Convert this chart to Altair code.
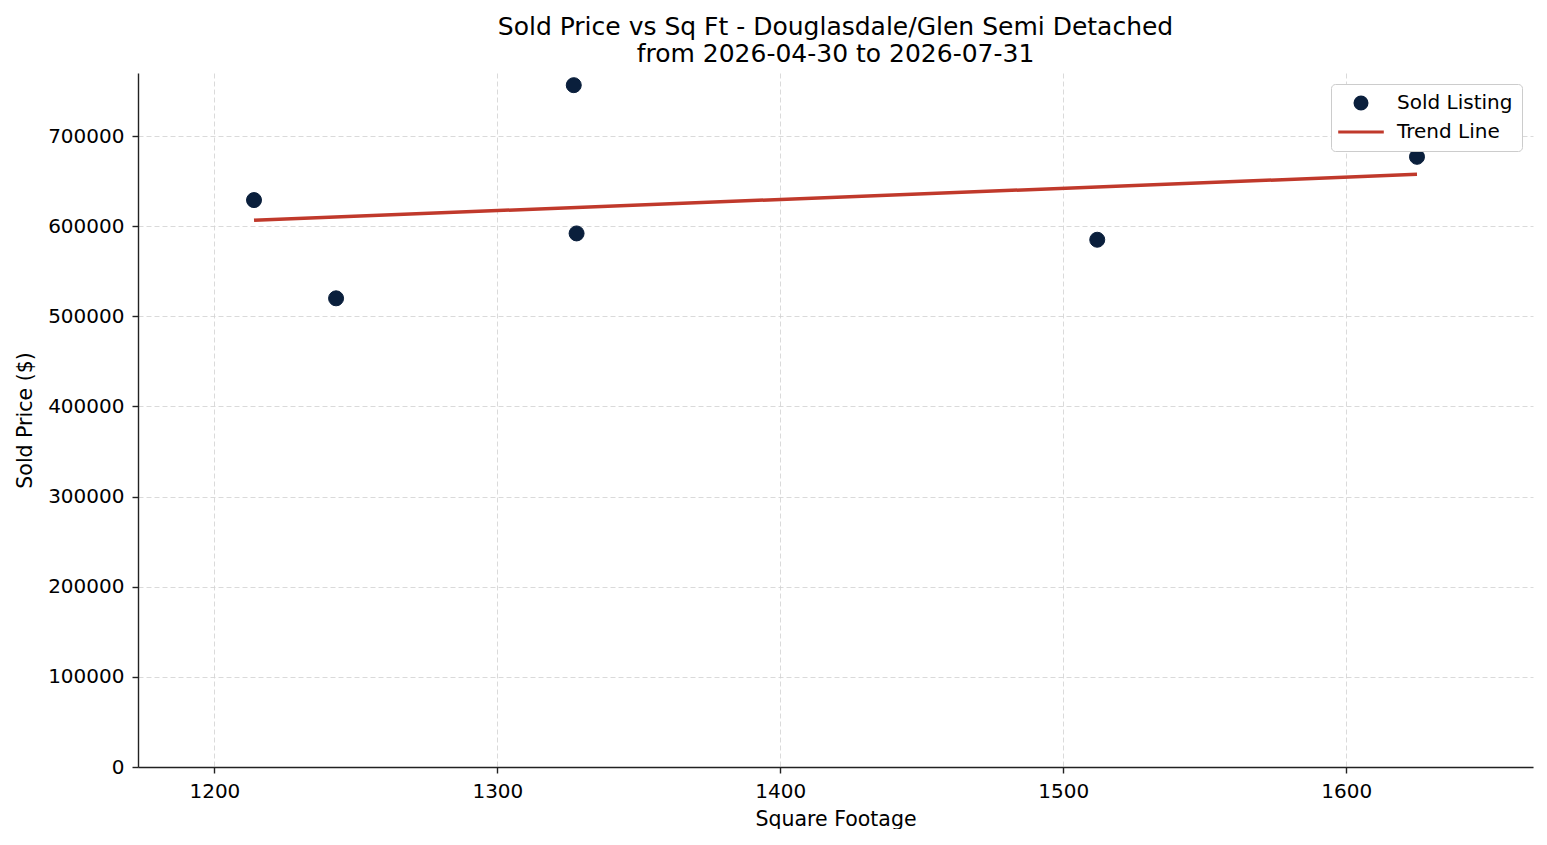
import pandas as pd
import altair as alt

# sold listings
sqft = [1214, 1243, 1327, 1328, 1512, 1625]
sold_price = [629000, 520000, 756500, 592000, 585000, 677000]

series_names = ['Sold Listing', 'Trend Line']
series_colors = ['#0a1f3c', '#c0392b']
# legend glyphs: a dot for listings, a long dash for the fitted line
series_shapes = ['circle', 'M-3.8,0L3.8,0']

df = pd.DataFrame({'sqft': sqft, 'price': sold_price})

title_lines = ['Sold Price vs Sq Ft - Douglasdale/Glen Semi Detached',
               'from 2026-04-30 to 2026-07-31']

x_enc = alt.X('sqft:Q', title='Square Footage',
              scale=alt.Scale(domain=[1173, 1666], nice=False, zero=False),
              axis=alt.Axis(values=[1200, 1300, 1400, 1500, 1600], format='d'))
y_enc = alt.Y('price:Q', title='Sold Price ($)',
              scale=alt.Scale(domain=[0, 770000], nice=False),
              axis=alt.Axis(values=[0, 100000, 200000, 300000, 400000, 500000, 600000, 700000],
                            format='d'))

color_scale = alt.Scale(domain=series_names, range=series_colors)
legend = alt.Legend(
    title=None, orient='top-right', offset=11,
    labelFontSize=20, labelFont='DejaVu Sans', labelColor='#000', labelOffset=26,
    symbolSize=144, symbolStrokeWidth=3, symbolOffset=11,
    padding=9, strokeColor='#cccccc', fillColor='#ffffff', cornerRadius=4,
)

points = alt.Chart(df).mark_point(filled=False, size=225, strokeWidth=1, opacity=1).encode(
    x=x_enc,
    y=y_enc,
    fill=alt.Fill('series:N', scale=color_scale, legend=legend),
    stroke=alt.Stroke('series:N', scale=color_scale, legend=legend),
    shape=alt.Shape('series:N', scale=alt.Scale(domain=series_names, range=series_shapes),
                    legend=legend),
).transform_calculate(series="'Sold Listing'")

trend = alt.Chart(df).mark_line(strokeWidth=3.5).encode(
    x=x_enc,
    y=y_enc,
    stroke=alt.Stroke('series:N', scale=color_scale, legend=legend),
).transform_regression('sqft', 'price').transform_calculate(series="'Trend Line'")

chart = alt.layer(trend, points).properties(
    width=1395, height=694,
    autosize=alt.AutoSizeParams(type='none'),
    padding={'left': 130, 'top': 65, 'right': 6, 'bottom': 62},
    title=alt.Title(title_lines, fontSize=25, fontWeight='normal', font='DejaVu Sans',
                    color='#000', anchor='middle', offset=6, lineHeight=27),
).configure_view(
    stroke=None
).configure_legend(
    rowPadding=7
).configure_axis(
    labelFont='DejaVu Sans', titleFont='DejaVu Sans',
    labelFontSize=20, titleFontSize=20.5, titleFontWeight='normal',
    labelColor='#000', titleColor='#000',
    domainColor='#222', domainWidth=1.4, tickColor='#222', tickSize=6, tickWidth=1.4,
    gridColor='#d0d0d0', gridDash=[5, 3], gridWidth=0.8,
    labelPadding=8,
).configure_axisX(
    titlePadding=8
).configure_axisY(
    titlePadding=12
)

chart.save('out.html', embed_options={'renderer': 'svg', 'actions': False})
